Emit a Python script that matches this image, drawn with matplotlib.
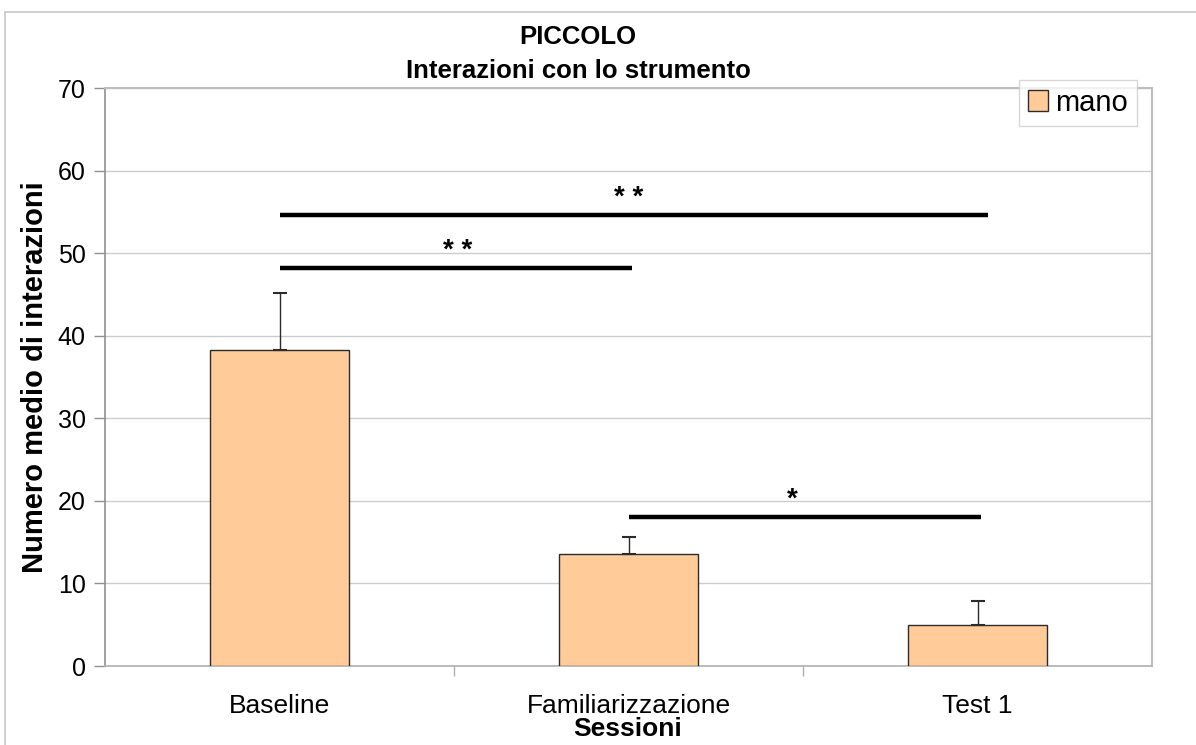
import matplotlib
matplotlib.use("Agg")
import matplotlib.pyplot as plt
from matplotlib.lines import Line2D
import numpy as np

plt.rcParams['font.family'] = ['Liberation Sans', 'DejaVu Sans']

categories = ["Baseline", "Familiarizzazione", "Test 1"]
values = [38.3, 13.6, 5.0]
errors = [6.9, 2.05, 2.9]
series_name = "mano"

# significance bars: start category, end category, height, label, label x
sig_start = [0.0, 0.0, 1.0]
sig_end = [2.03, 1.01, 2.01]
sig_y = [54.6, 48.2, 18.1]
sig_label = ["* *", "* *", "*"]
sig_label_x = [1.0, 0.51, 1.47]

yticks = [0, 10, 20, 30, 40, 50, 60, 70]

fig = plt.figure(figsize=(11.96, 7.45), dpi=100)
ax = fig.add_axes([105/1196, 1-666/745, (1152-105)/1196, (666-88)/745])

x = np.arange(len(categories))
ax.bar(x, values, width=0.4, color="#FFCC99", edgecolor="#2b2b2b", linewidth=1.0,
       label=series_name, zorder=3)
ax.errorbar(x, values, yerr=[np.zeros(len(errors)), errors], fmt='none',
            ecolor="#2b2b2b", elinewidth=1.0, capsize=5, capthick=1.5, zorder=4)

for s, e, y, lab, lx in zip(sig_start, sig_end, sig_y, sig_label, sig_label_x):
    ax.plot([s, e], [y, y], color="black", linewidth=3.2, solid_capstyle='butt', zorder=5)
    ax.text(lx, y + 0.5, lab, ha='center', va='bottom', fontsize=20, fontweight='bold', zorder=5)

ax.set_xlim(-0.5, 2.5)
ax.set_ylim(0, 70)
ax.set_yticks(yticks)
ax.set_yticklabels([str(t) for t in yticks], fontsize=18)
ax.set_xticks(x)
ax.set_xticklabels(categories, fontsize=19)
ax.set_xticks([0.5, 1.5], minor=True)
ax.tick_params(axis='x', which='major', length=0, pad=20)
ax.tick_params(axis='x', which='minor', length=7, color="#b0b0b0", width=1)
ax.tick_params(axis='y', length=8, color="#909090", width=1, pad=6)

ax.grid(axis='y', color="#cccccc", linewidth=1, zorder=0)
ax.set_axisbelow(True)
for side in ['top', 'right']:
    ax.spines[side].set_color("#bdbdbd")
    ax.spines[side].set_linewidth(1.5)
ax.spines['left'].set_color("#909090")
ax.spines['bottom'].set_color("#b0b0b0")
ax.spines['left'].set_linewidth(1.2)
ax.spines['bottom'].set_linewidth(1.2)

ax.set_ylabel("Numero medio di interazioni", fontsize=21, fontweight='bold', labelpad=6)
fig.text(628/1196, 1-729/745, "Sessioni", ha='center', va='center',
         fontsize=19, fontweight='bold')

fig.text(578/1196, 1-37/745, "PICCOLO", ha='center', va='center', fontsize=18.5, fontweight='bold')
fig.text(578/1196, 1-71/745, "Interazioni con lo strumento", ha='center', va='center',
         fontsize=18.5, fontweight='bold')

leg = ax.legend(loc='upper right', bbox_to_anchor=(1137/1196, 1-80/745),
                bbox_transform=fig.transFigure, fontsize=21, frameon=True, fancybox=False,
                handlelength=0.7, handleheight=0.7, handletextpad=0.25, borderpad=0.3,
                borderaxespad=0)
leg.get_frame().set_edgecolor("#cccccc")
leg.get_frame().set_linewidth(1)

# chart outer frame
fig.add_artist(Line2D([5/1196, 5/1196], [0, 1-12/745], color="#c8c8c8", linewidth=1.2,
                      transform=fig.transFigure))
fig.add_artist(Line2D([5/1196, 1], [1-12/745, 1-12/745], color="#c8c8c8", linewidth=1.2,
                      transform=fig.transFigure))

fig.savefig("out.png", dpi=100)
